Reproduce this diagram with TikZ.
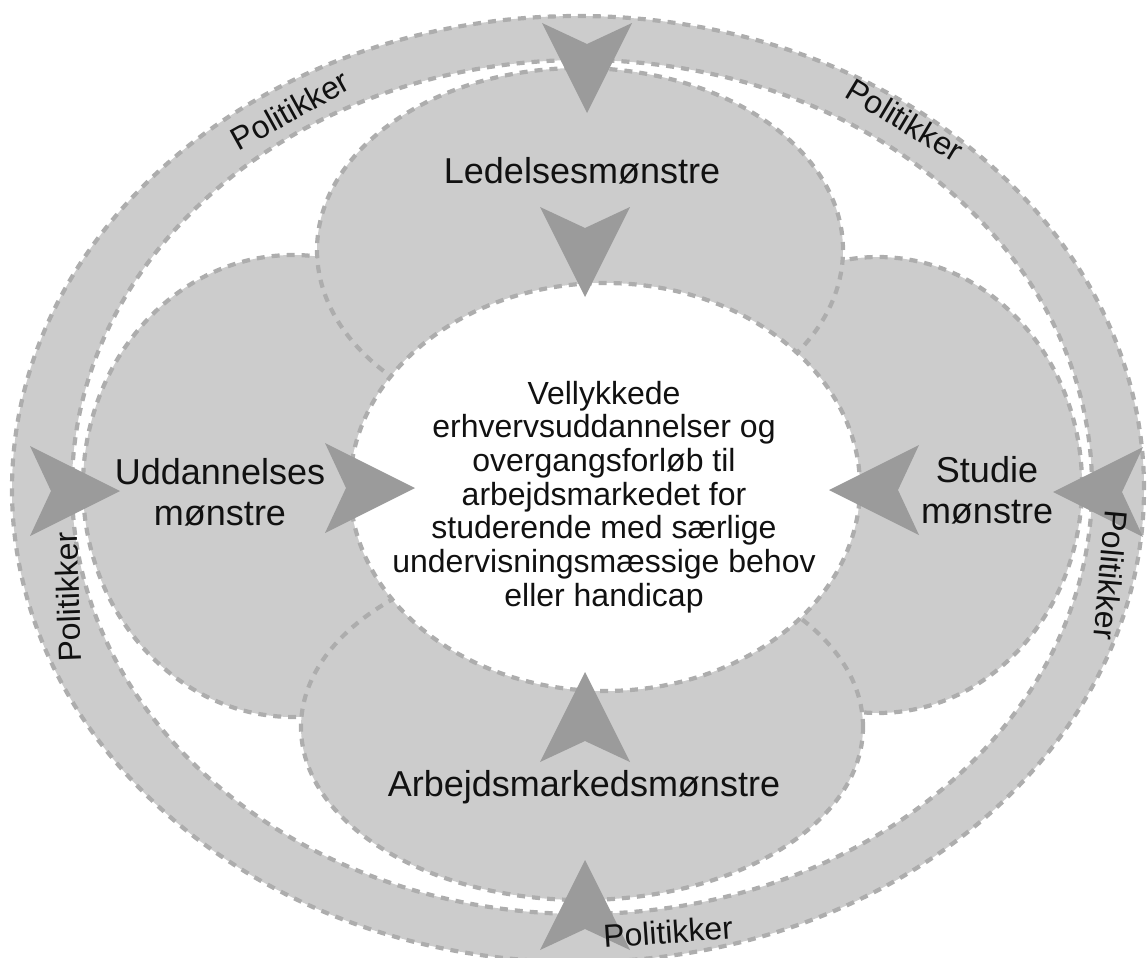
\documentclass[tikz,border=0pt]{standalone}
\usepackage{fontspec}
\setmainfont{Liberation Sans}
\definecolor{petal}{HTML}{CCCCCC}
\definecolor{dashgray}{HTML}{ADADAD}
\definecolor{dartgray}{HTML}{9B9B9B}
\definecolor{ink}{HTML}{111111}
\begin{document}
\begin{tikzpicture}[x=1pt,y=-1pt,
  dashline/.style={draw=dashgray, line width=4.2pt, dash pattern=on 8pt off 7pt},
  zone/.style={fill=petal, dashline},
  hole/.style={fill=white, dashline},
  lbl/.style={text=ink, font=\fontsize{36}{41}\selectfont, align=center, inner sep=0pt},
  ctr/.style={text=ink, font=\fontsize{32}{33.7}\selectfont, align=center, inner sep=0pt},
  pol/.style={text=ink, font=\fontsize{32}{36}\selectfont, inner sep=0pt},
  dart/.pic={\fill[dartgray] (0,0) -- (-90,-45) -- (-69,0) -- (-90,45) -- cycle;}
]
\useasboundingbox (0,0) rectangle (1148,958);
\clip (0,0) rectangle (1148,958);

% outer policy ring
\fill[petal, even odd rule]
  (578,489) ellipse [x radius=566pt, y radius=473pt]
  (582,487) ellipse [x radius=510pt, y radius=427pt];
\draw[dashline] (578,489) ellipse [x radius=566pt, y radius=473pt];
\draw[dashline] (582,487) ellipse [x radius=510pt, y radius=427pt];

% side petals
\filldraw[zone] (293,486) ellipse [x radius=210pt, y radius=231pt];
\filldraw[zone] (878,485) ellipse [x radius=204pt, y radius=228pt];
% top and bottom petals
\filldraw[zone] (580,250) ellipse [x radius=263pt, y radius=182pt];
\filldraw[zone] (582,727) ellipse [x radius=281pt, y radius=173pt];
% centre
\filldraw[hole] (605,487) ellipse [x radius=255pt, y radius=204pt];

% darts
\pic (dto) [rotate=-90] at (587,113) {dart};
\pic (dti) [rotate=-90] at (585,297) {dart};
\pic (dlo) at (120,491) {dart};
\pic (dli) at (415,488) {dart};
\pic (dro) [rotate=180] at (1053,492) {dart};
\pic (dri) [rotate=180] at (829,490) {dart};
\pic (dbo) [rotate=90] at (585,860) {dart};
\pic (dbi) [rotate=90] at (585,672) {dart};

% labels
\node[lbl, anchor=base] (led) at (582,183) {Ledelsesmønstre};
\node[lbl, anchor=base] (arb) at (584,796) {Arbejdsmarkedsmønstre};
\node[lbl] (udd) at (220,492) {Uddannelses\\mønstre};
\node[lbl] (stu) at (987,490) {Studie\\mønstre};
\node[ctr] (goal) at (604,497) {Vellykkede\\erhvervsuddannelser og\\overgangsforløb til\\arbejdsmarkedet for\\studerende med særlige\\undervisningsmæssige behov\\eller handicap};

\node[pol, rotate=29] (p1) at (290,110) {Politikker};
\node[pol, rotate=-31] (p2) at (905,120) {Politikker};
\node[pol, rotate=92] (p3) at (68,597) {Politikker};
\node[pol, rotate=-95] (p4) at (1111,575) {Politikker};
\node[pol, rotate=4] (p5) at (668,932) {Politikker};
\end{tikzpicture}
\end{document}
